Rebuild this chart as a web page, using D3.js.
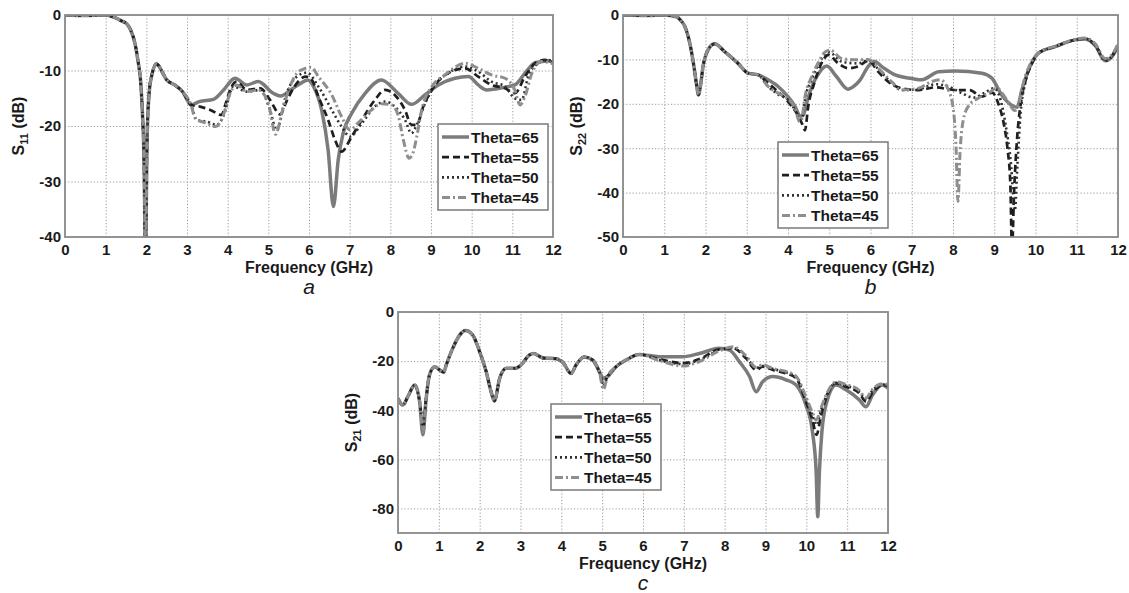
<!DOCTYPE html>
<html>
<head>
<meta charset="utf-8">
<script src="https://cdnjs.cloudflare.com/ajax/libs/d3/7.8.5/d3.min.js"></script>
<style>
  body { margin: 0; background: #fff; }
  svg { font-family: "Liberation Sans", Arial, sans-serif; }
</style>
</head>
<body>
<div id="chart"></div>
<script>
// ---- data: [frequency GHz, dB] ----
var freqTicks = [0, 1, 2, 3, 4, 5, 6, 7, 8, 9, 10, 11, 12];
var thetaLabels = ["Theta=65", "Theta=55", "Theta=50", "Theta=45"];

// (a) S11
var s11Ticks = [0, -10, -20, -30, -40];
var s11Start = [[0, 0], [0.5, -0.1], [1.0, 0], [1.2, -0.4], [1.4, -1.1], [1.52, -1.6], [1.62, -2.8], [1.72, -5.1],
  [1.8, -8.5], [1.86, -12], [1.9, -17], [1.94, -25], [1.98, -43], [2.02, -22], [2.07, -14], [2.13, -11],
  [2.25, -8.8], [2.4, -10.4], [2.5, -11.7], [2.7, -12.6], [2.9, -13.9], [3.1, -16.2]];
var s11Theta65 = s11Start.concat([[3.3, -15.6], [3.65, -15.2], [3.9, -13.5], [4.18, -11.4], [4.47, -12.6],
  [4.75, -12.0], [5.12, -14.1], [5.3, -14.6], [5.55, -13.5], [5.8, -12.3], [5.97, -11.7], [6.12, -13.0],
  [6.31, -17.1], [6.47, -24.3], [6.6, -34.5], [6.72, -26], [6.84, -21.3], [7.05, -17.7], [7.38, -14.1],
  [7.78, -11.7], [8.19, -14.1], [8.52, -16.1], [8.85, -14.4], [9.18, -12.6], [9.59, -11.4], [9.92, -11.1],
  [10.16, -12.6], [10.37, -13.5], [10.82, -13.0], [11.06, -12.6], [11.31, -10.5], [11.56, -8.6], [11.88, -8.3], [12, -8.6]]);
var s11Theta55 = s11Start.concat([[3.32, -16.5], [3.57, -17.1], [3.85, -18.0], [3.95, -16], [4.06, -13.5],
  [4.22, -12.0], [4.47, -13.5], [4.8, -13.2], [5.04, -15.3], [5.29, -17.9], [5.45, -15.5], [5.65, -12.8],
  [5.92, -11.1], [6.05, -11.5], [6.23, -14.7], [6.47, -18.9], [6.64, -22.5], [6.8, -24.6], [7.05, -21.9],
  [7.3, -18.9], [7.62, -15.3], [7.87, -13.5], [8.11, -14.4], [8.36, -17.1], [8.52, -19.8], [8.65, -19.8],
  [8.81, -16.5], [9.1, -12.6], [9.42, -10.5], [9.84, -9.6], [10.16, -11.1], [10.49, -12.6], [10.82, -13.2],
  [11.06, -14.1], [11.31, -11.1], [11.56, -8.7], [11.8, -8.1], [12, -8.5]]);
var s11Theta50 = s11Start.concat([[3.24, -18.9], [3.48, -19.2], [3.73, -19.8], [3.89, -18.3], [4.14, -12.9],
  [4.47, -13.8], [4.8, -13.5], [5.04, -17.1], [5.2, -20.7], [5.45, -14.1], [5.7, -11.1], [5.95, -10.4],
  [6.23, -12.9], [6.56, -17.1], [6.8, -20.1], [7.01, -21.9], [7.3, -19.5], [7.62, -16.5], [7.87, -15.6],
  [8.11, -16.5], [8.36, -18.9], [8.52, -21.3], [8.65, -19.8], [8.85, -16], [9.1, -12.6], [9.42, -10.5],
  [9.84, -9.3], [10.16, -10.2], [10.49, -12.0], [10.82, -12.9], [11.06, -15], [11.23, -15.3], [11.39, -11.1],
  [11.64, -8.7], [11.88, -8.1], [12, -8.4]]);
var s11Theta45 = s11Start.concat([[3.2, -18.6], [3.48, -19.5], [3.69, -20.1], [3.85, -18.9], [4.06, -14.1],
  [4.22, -12.6], [4.47, -13.8], [4.75, -13.5], [5.0, -15.9], [5.18, -21.5], [5.33, -17.7], [5.53, -12.9],
  [5.7, -10.5], [5.85, -9.8], [6.05, -9.4], [6.23, -11.1], [6.56, -14.4], [6.8, -18.3], [7.01, -20.7],
  [7.2, -19.5], [7.54, -17.1], [7.78, -16], [8.03, -16.2], [8.2, -18.3], [8.32, -22.5], [8.46, -25.8],
  [8.55, -25.0], [8.65, -21.9], [8.77, -17.1], [9.02, -12.9], [9.34, -10.8], [9.84, -8.7], [10.16, -9.6],
  [10.49, -10.8], [10.82, -11.4], [11.06, -13.5], [11.19, -16.2], [11.31, -14.7], [11.48, -10.5],
  [11.72, -8.4], [11.96, -8.7], [12, -8.8]]);

// (b) S22
var s22Ticks = [0, -10, -20, -30, -40, -50];
var s22Start = [[0, 0], [0.6, -0.1], [1.0, 0], [1.29, -0.4], [1.4, -1.2], [1.5, -2.6], [1.62, -6.4], [1.72, -11.6],
  [1.78, -15.5], [1.83, -18], [1.88, -15.8], [1.94, -11.6], [2.06, -7.9], [2.22, -6.5], [2.47, -8.3],
  [2.79, -10.9], [3.03, -13.1], [3.28, -13.5]];
var s22Theta65 = s22Start.concat([[3.52, -14.6], [3.76, -16.1], [4.0, -18.4], [4.17, -20.6], [4.3, -22.8],
  [4.37, -22.5], [4.45, -19.9], [4.61, -15.4], [4.77, -12.8], [4.94, -11.5], [5.17, -13.8], [5.45, -16.7],
  [5.6, -16.0], [5.75, -14.6], [5.95, -11.5], [6.1, -10.5], [6.3, -11.8], [6.6, -13.5], [7.0, -14.3],
  [7.24, -14.6], [7.65, -12.8], [8.05, -12.6], [8.7, -13.1], [8.94, -14.2], [9.18, -18], [9.42, -20.3],
  [9.55, -20.8], [9.67, -16.9], [9.83, -12.4], [10.07, -8.6], [10.48, -7.1], [10.96, -5.6], [11.2, -5.4],
  [11.45, -6.9], [11.69, -10.3], [11.85, -9.4], [12, -7.1]]);
var s22Theta55 = s22Start.concat([[3.52, -15.4], [3.76, -17.3], [4.0, -19.5], [4.21, -22.1], [4.37, -25.1],
  [4.41, -26], [4.49, -20.6], [4.65, -15], [4.81, -10.9], [4.98, -9], [5.22, -10.9], [5.46, -12.0],
  [5.7, -11.6], [5.95, -10.3], [6.19, -12.8], [6.43, -15], [6.75, -16.5], [7.16, -16.9], [7.57, -16.3],
  [8.05, -16.9], [8.4, -16.9], [8.7, -18.4], [8.95, -17.5], [9.1, -20], [9.22, -24], [9.32, -30],
  [9.39, -38], [9.43, -53], [9.48, -40], [9.56, -27], [9.66, -19], [9.78, -14], [9.92, -10.8], [10.07, -8.6],
  [10.48, -7.1], [10.96, -5.6], [11.2, -5.3], [11.45, -6.8], [11.69, -10], [11.85, -9.2], [12, -6.8]]);
var s22Theta50 = s22Start.concat([[3.52, -16.1], [3.76, -17.9], [4.0, -19.1], [4.17, -21.4], [4.3, -23.6],
  [4.35, -23], [4.41, -19.1], [4.57, -14.6], [4.73, -11.3], [4.9, -8.8], [5.0, -8.4], [5.3, -10.5],
  [5.7, -10.9], [5.95, -10.2], [6.19, -12.2], [6.51, -15.3], [6.75, -16.9], [7.16, -16.7], [7.57, -15.6],
  [7.89, -16.1], [8.21, -17.6], [8.5, -18.6], [8.75, -17.6], [9.0, -16.5], [9.15, -19], [9.28, -25],
  [9.4, -33], [9.5, -44], [9.56, -34], [9.64, -22], [9.76, -15], [9.92, -10.8], [10.07, -8.6], [10.48, -7.1],
  [10.96, -5.6], [11.2, -5.3], [11.45, -6.9], [11.69, -10.3], [11.85, -9.4], [12, -7.0]]);
var s22Theta45 = s22Start.concat([[3.52, -16.1], [3.76, -17.6], [4.0, -18.9], [4.17, -21], [4.28, -24],
  [4.33, -23.5], [4.41, -18.5], [4.57, -14], [4.73, -10.8], [4.9, -8.3], [5.02, -7.9], [5.3, -9.8],
  [5.7, -10.1], [5.95, -10], [6.19, -12], [6.51, -15], [6.75, -16.9], [7.16, -16.5], [7.48, -15],
  [7.69, -14.6], [7.89, -16.9], [8.01, -21.4], [8.07, -28.9], [8.12, -42], [8.17, -31.1], [8.25, -23.6],
  [8.37, -20.6], [8.62, -18.7], [8.86, -17.6], [9.06, -16.5], [9.3, -19], [9.5, -21.5], [9.6, -20],
  [9.7, -15.5], [9.85, -11.5], [10.07, -8.6], [10.48, -7.0], [10.96, -5.5], [11.2, -5.2], [11.45, -6.5],
  [11.69, -9.8], [11.85, -9], [12, -6.5]]);

// (c) S21
var s21Ticks = [0, -20, -40, -60, -80];
var s21Start = [[0, -35.2], [0.12, -37.9], [0.24, -34.5], [0.41, -29.7], [0.53, -36.5]];
var s21Mid = [[0.69, -35.2], [0.77, -25.7], [0.9, -22.3], [1.02, -23.6], [1.12, -24.5], [1.18, -21.6],
  [1.34, -14.8], [1.51, -9.4], [1.65, -7.5], [1.83, -9.4], [2.0, -16.2], [2.16, -24.3], [2.28, -32.5],
  [2.36, -36.2], [2.49, -27], [2.65, -22.9], [2.89, -22.9], [3.01, -21.6], [3.22, -17.5], [3.32, -16.9],
  [3.55, -18.7], [3.87, -19], [4.03, -20.4], [4.24, -25], [4.36, -21.6], [4.56, -18.3], [4.77, -19.6], [4.93, -24.3]];
var s21Mid2 = [[5.13, -26.3], [5.34, -22.3], [5.58, -19.6], [5.91, -17.3]];
var s21Theta65 = s21Start.concat([[0.61, -50]], s21Mid, [[5.03, -27]], s21Mid2, [[6.4, -18.2], [6.98, -18.2],
  [7.38, -16.9], [7.87, -14.8], [8.12, -15.5], [8.36, -20.2], [8.61, -26.3], [8.77, -32.5], [8.93, -28.4],
  [9.18, -26.3], [9.5, -27.6], [9.75, -29.7], [9.99, -37.9], [10.15, -48.8], [10.24, -65], [10.28, -83.4],
  [10.32, -65], [10.38, -49], [10.48, -37.9], [10.73, -29.7], [10.97, -31.7], [11.3, -35.8], [11.46, -38.6],
  [11.62, -33.8], [11.86, -29.7], [12, -31]]);
var s21Theta55 = s21Start.concat([[0.61, -47]], s21Mid, [[5.03, -29]], s21Mid2, [[6.4, -19.2], [6.98, -20.8],
  [7.38, -19.2], [7.87, -15.2], [8.21, -14.8], [8.53, -19], [8.77, -23.6], [8.93, -22.3], [9.18, -23.6],
  [9.5, -25], [9.75, -27], [9.99, -36.5], [10.15, -44], [10.25, -50], [10.36, -42], [10.48, -35.2],
  [10.73, -29], [10.97, -30.4], [11.3, -33.1], [11.46, -36.5], [11.62, -32.9], [11.86, -29.7], [12, -30]]);
var s21Theta50 = s21Start.concat([[0.61, -45]], s21Mid, [[5.03, -30]], s21Mid2, [[6.4, -19.6], [6.98, -21.2],
  [7.38, -19.6], [7.87, -15.5], [8.21, -14.6], [8.53, -18.5], [8.77, -22.8], [8.93, -22], [9.18, -23.2],
  [9.5, -24.6], [9.75, -26.6], [9.99, -35], [10.15, -42], [10.25, -46], [10.36, -40], [10.48, -34.5],
  [10.73, -28.8], [10.97, -30], [11.3, -32.5], [11.46, -35.5], [11.62, -32], [11.86, -29.5], [12, -30]]);
var s21Theta45 = s21Start.concat([[0.61, -49]], s21Mid, [[5.03, -31.5]], s21Mid2, [[6.4, -19.8], [6.98, -22],
  [7.38, -20.2], [7.87, -15.8], [8.21, -14.2], [8.53, -18], [8.77, -22.5], [8.93, -21.5], [9.18, -23],
  [9.5, -24.2], [9.75, -26.2], [9.99, -34.5], [10.15, -41], [10.24, -44], [10.36, -39], [10.48, -34],
  [10.73, -28.5], [10.97, -29.5], [11.3, -32], [11.46, -35], [11.62, -31.5], [11.86, -29.2], [12, -29.5]]);

// ---- styles for the four theta curves ----
var lineStyles = [
  { color: "#7b7b7b", width: 3.5, dash: null },
  { color: "#1e1e1e", width: 2.7, dash: "7,4" },
  { color: "#303030", width: 2.6, dash: "2,3" },
  { color: "#8e8e8e", width: 3, dash: "8,3,2,3" }
];

var panels = [
  { name: "a", left: 65, top: 15, right: 553, bottom: 237, yDomain: [-40, 0], yTicks: s11Ticks, sub: "11",
    series: [s11Theta65, s11Theta55, s11Theta50, s11Theta45], legendX: 438, legendY: 124 },
  { name: "b", left: 623, top: 15, right: 1118, bottom: 237, yDomain: [-50, 0], yTicks: s22Ticks, sub: "22",
    series: [s22Theta65, s22Theta55, s22Theta50, s22Theta45], legendX: 778, legendY: 142 },
  { name: "c", left: 398, top: 312, right: 888, bottom: 533, yDomain: [-90, 0], yTicks: s21Ticks, sub: "21",
    series: [s21Theta65, s21Theta55, s21Theta50, s21Theta45], legendX: 551, legendY: 404 }
];

// plain hyphen for negatives, as in the figure
var plainNum = function(d) { return String(d); };

var svg = d3.select("#chart")
  .append("svg")
  .attr("width", 1129)
  .attr("height", 593);

panels.forEach(function(p, i) {
  var w = p.right - p.left;
  var h = p.bottom - p.top;

  var x = d3.scaleLinear().domain([0, 12]).range([0, w]);
  var y = d3.scaleLinear().domain(p.yDomain).range([h, 0]);

  var g = svg.append("g").attr("transform", `translate(${p.left},${p.top})`);

  g.append("clipPath").attr("id", "clip" + i)
    .append("rect").attr("width", w).attr("height", h);

  // dotted grid
  g.append("g")
    .attr("transform", `translate(0,${h})`)
    .call(d3.axisBottom(x).tickValues(freqTicks).tickSize(-h).tickFormat(""))
    .call(function(s) { s.select(".domain").remove(); });
  g.append("g")
    .call(d3.axisLeft(y).tickValues(p.yTicks).tickSize(-w).tickFormat(""))
    .call(function(s) { s.select(".domain").remove(); });
  g.selectAll(".tick line")
    .attr("stroke", "#9a9a9a")
    .attr("stroke-width", 1)
    .attr("stroke-dasharray", "1.2,2");

  // curves
  var line = d3.line()
    .x(function(d) { return x(d[0]); })
    .y(function(d) { return y(d[1]); })
    .curve(d3.curveMonotoneX);

  var curves = g.append("g").attr("clip-path", `url(#clip${i})`);
  p.series.forEach(function(s, k) {
    curves.append("path")
      .datum(s)
      .attr("d", line)
      .attr("fill", "none")
      .attr("stroke", lineStyles[k].color)
      .attr("stroke-width", lineStyles[k].width)
      .attr("stroke-dasharray", lineStyles[k].dash)
      .attr("stroke-linejoin", "round");
  });

  // frame
  g.append("rect")
    .attr("width", w).attr("height", h)
    .attr("fill", "none")
    .attr("stroke", "#8a8a8a")
    .attr("stroke-width", 1.8);

  // tick labels
  var xAxis = g.append("g")
    .attr("transform", `translate(0,${h})`)
    .call(d3.axisBottom(x).tickValues(freqTicks).tickFormat(plainNum).tickSize(0).tickPadding(7));
  var yAxis = g.append("g")
    .call(d3.axisLeft(y).tickValues(p.yTicks).tickFormat(plainNum).tickSize(0).tickPadding(4));
  [xAxis, yAxis].forEach(function(a) {
    a.select(".domain").remove();
    a.selectAll("text")
      .attr("font-family", "Liberation Sans, Arial, sans-serif")
      .attr("font-size", 15)
      .attr("font-weight", "bold")
      .attr("fill", "#1a1a1a");
  });

  // axis titles
  g.append("text")
    .attr("x", w / 2).attr("y", h + 36)
    .attr("text-anchor", "middle")
    .attr("font-size", 16).attr("font-weight", "bold").attr("fill", "#1a1a1a")
    .text("Frequency (GHz)");

  var yt = g.append("text")
    .attr("transform", `translate(-41,${h / 2}) rotate(-90)`)
    .attr("text-anchor", "middle")
    .attr("font-size", 16).attr("font-weight", "bold").attr("fill", "#1a1a1a");
  yt.append("tspan").text("S");
  yt.append("tspan").attr("dy", 4).attr("font-size", 11).text(p.sub);
  yt.append("tspan").attr("dy", -4).text(" (dB)");

  // panel letter
  g.append("text")
    .attr("x", w / 2).attr("y", h + 57)
    .attr("text-anchor", "middle")
    .attr("font-size", 21).attr("font-style", "italic").attr("fill", "#1a1a1a")
    .text(p.name);

  // legend
  var lg = svg.append("g").attr("transform", `translate(${p.legendX},${p.legendY})`);
  lg.append("rect")
    .attr("width", 110).attr("height", 86)
    .attr("fill", "#fff")
    .attr("stroke", "#7a7a7a")
    .attr("stroke-width", 1.5);
  thetaLabels.forEach(function(label, k) {
    var ry = 13 + k * 20.2;
    lg.append("line")
      .attr("x1", 4).attr("x2", 31).attr("y1", ry).attr("y2", ry)
      .attr("stroke", lineStyles[k].color)
      .attr("stroke-width", lineStyles[k].width)
      .attr("stroke-dasharray", lineStyles[k].dash);
    lg.append("text")
      .attr("x", 33).attr("y", ry + 5.5)
      .attr("font-size", 15.5).attr("font-weight", "bold").attr("fill", "#1a1a1a")
      .text(label);
  });
});
</script>
</body>
</html>
